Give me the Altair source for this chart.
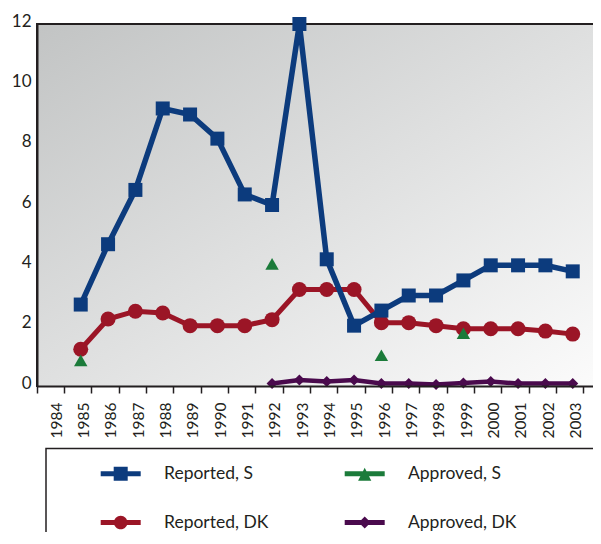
import altair as alt
import pandas as pd

# ---- data ----
years_all = list(range(1984, 2005))

years_reported = list(range(1985, 2004))
reported_s = [2.7, 4.7, 6.5, 9.2, 9.0, 8.2, 6.35, 6.0, 12.0, 4.2, 2.0, 2.5,
              3.0, 3.0, 3.5, 4.0, 4.0, 4.0, 3.8]
reported_dk = [1.22, 2.22, 2.48, 2.42, 2.0, 2.0, 2.0, 2.2, 3.2, 3.2, 3.2, 2.1,
               2.1, 2.0, 1.9, 1.9, 1.9, 1.82, 1.72]

years_approved_s = [1985, 1992, 1996, 1999]
approved_s = [0.85, 4.05, 1.02, 1.75]

years_approved_dk = list(range(1992, 2004))
approved_dk = [0.08, 0.2, 0.15, 0.2, 0.08, 0.08, 0.05, 0.1, 0.15, 0.08, 0.08, 0.08]

series_names = ["Reported, S", "Approved, S", "Reported, DK", "Approved, DK"]
series_colors = ["#0c3b7d", "#1b7b3a", "#9b1526", "#4a0a4d"]

rows = []
for y, v in zip(years_reported, reported_s):
    rows.append({"year": y, "value": v, "series": "Reported, S"})
for y, v in zip(years_approved_s, approved_s):
    rows.append({"year": y, "value": v, "series": "Approved, S"})
for y, v in zip(years_reported, reported_dk):
    rows.append({"year": y, "value": v, "series": "Reported, DK"})
for y, v in zip(years_approved_dk, approved_dk):
    rows.append({"year": y, "value": v, "series": "Approved, DK"})
df = pd.DataFrame(rows)

W, H = 574, 362
FONT = "Lato"

# ---- legend symbols: line with marker (unit box, shifted right) ----
D = 1.485
def line_part():
    return (f"M-1,0 L-1,0.001 "
            f"M{D},-0.13 L{D+2},-0.13 L{D+2},0.13 L{D},0.13 Z ")
c = D + 1
sym_square = line_part() + f"M{c-0.35},-0.35 L{c+0.35},-0.35 L{c+0.35},0.35 L{c-0.35},0.35 Z"
sym_triangle = line_part() + f"M{c},-0.3 L{c+0.33},0.35 L{c-0.33},0.35 Z M{c},0 L{c+30},0.001"
sym_circle = line_part() + (f"M{c-0.34},0 A0.34,0.34 0 1,1 {c+0.34},0 "
                            f"A0.34,0.34 0 1,1 {c-0.34},0 Z")
sym_diamond = line_part() + f"M{c-0.3},0 L{c},-0.3 L{c+0.3},0 L{c},0.3 Z M{c},0 L{c+30},0.001"
legend_paths = [sym_square, sym_triangle, sym_circle, sym_diamond]

x_enc = alt.X(
    "year:O",
    scale=alt.Scale(type="band", domain=years_all, paddingInner=0, paddingOuter=0),
    bandPosition=0.6,
    axis=alt.Axis(
        title=None, labelAngle=270, bandPosition=0, labelOffset=6,
        tickSize=7, tickWidth=1.5, tickColor="#231f20",
        domainColor="#231f20", domainWidth=2, zindex=1,
        labelFont=FONT, labelFontSize=15.5, labelColor="#231f20",
        labelPadding=9, grid=False,
    ),
)
y_enc = alt.Y(
    "value:Q",
    scale=alt.Scale(domain=[0, 12], nice=False, zero=True),
    axis=alt.Axis(
        title=None, values=[0, 2, 4, 6, 8, 10, 12], ticks=False, grid=False,
        domainColor="#231f20", domainWidth=2, labelPadding=6, labelOffset=-3, zindex=1,
        labelFont=FONT, labelFontSize=17,
        labelColor="#231f20", minExtent=29, maxExtent=29,
    ),
)

# plot-area background gradient (decoration)
bg = alt.Chart(pd.DataFrame({"k": [0]})).mark_rect(
    color=alt.Gradient(
        gradient="linear", x1=0, y1=0, x2=1, y2=1,
        stops=[alt.GradientStop(offset=0, color="#c2c4c4"),
               alt.GradientStop(offset=1, color="#fcfcfc")],
    )
).encode(x=alt.value(1), x2=alt.value(W), y=alt.value(1), y2=alt.value(H))

base = alt.Chart(df).encode(x=x_enc, y=y_enc)

def sel(name):
    return base.transform_filter(alt.datum.series == name)

dk_app_line = sel("Approved, DK").mark_line(color="#4a0a4d", strokeWidth=4.5)
dk_app_pts = sel("Approved, DK").mark_point(shape="diamond", filled=True, size=121,
                                            opacity=1, color="#4a0a4d")
dk_rep_line = sel("Reported, DK").mark_line(color="#9b1526", strokeWidth=5)
dk_rep_pts = sel("Reported, DK").mark_point(shape="circle", filled=True, size=225,
                                            opacity=1, color="#9b1526")
s_app_pts = sel("Approved, S").mark_point(shape="triangle-up", filled=True, size=180,
                                          opacity=1, color="#1b7b3a")
s_rep_line = sel("Reported, S").mark_line(color="#0c3b7d", strokeWidth=5.5)
s_rep_pts = sel("Reported, S").mark_point(shape="square", filled=True, size=196,
                                          opacity=1, color="#0c3b7d")

leg = alt.Legend(title=None, orient="none", legendX=9, legendY=424.5, columns=2,
                 direction="horizontal")
legend_layer = alt.Chart(df).transform_filter("false").mark_point(
    filled=True, opacity=1, strokeWidth=0
).encode(
    shape=alt.Shape("series:N", scale=alt.Scale(domain=series_names, range=legend_paths),
                    legend=leg),
    color=alt.Color("series:N", scale=alt.Scale(domain=series_names, range=series_colors),
                    legend=leg),
)

chart = alt.layer(
    bg, dk_app_line, dk_app_pts, dk_rep_line, dk_rep_pts, s_app_pts, s_rep_line, s_rep_pts,
    legend_layer,
).properties(
    width=W, height=H,
    autosize=alt.AutoSizeParams(type="none"),
    padding={"left": 29, "top": 16, "right": -18, "bottom": 146},
).configure_view(
    stroke="#231f20", strokeWidth=2,
).configure_legend(
    symbolSize=1600, symbolStrokeWidth=0, symbolOpacity=1,
    labelFont=FONT, labelFontSize=17.5,
    labelColor="#231f20", labelOffset=73, padding=5, rowPadding=20, columnPadding=26,
    strokeColor="#231f20", strokeWidth=1.5,
)

chart.save("out.html", embed_options={"renderer": "svg", "actions": False})
